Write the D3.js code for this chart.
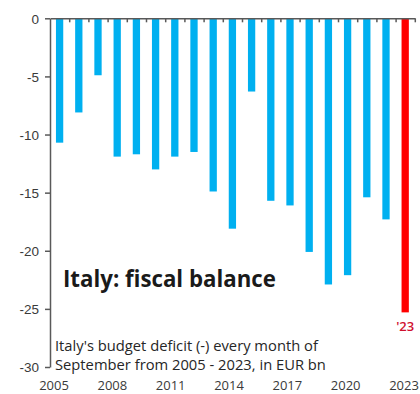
<!DOCTYPE html>
<html>
<head>
<meta charset="utf-8">
<script src="https://cdn.jsdelivr.net/npm/d3@7"></script>
<style>
  html, body { margin: 0; padding: 0; background: #fff; }
  svg { display: block; font-family: "Open Sans", Lato, sans-serif; }
</style>
</head>
<body>
<svg id="chart" width="420" height="394"></svg>
<script>
const years = ["2005","2006","2007","2008","2009","2010","2011","2012","2013","2014",
               "2015","2016","2017","2018","2019","2020","2021","2022","2023"];
const values = [-10.7, -8.1, -4.9, -11.9, -11.7, -13.0, -11.9, -11.5, -14.9, -18.1,
                -6.3, -15.7, -16.1, -20.1, -22.9, -22.1, -15.4, -17.3, -25.3];
const highlightYear = "2023";
const highlightLabel = "'23";
const xTickLabels = ["2005","2008","2011","2014","2017","2020","2023"];
const yTickValues = [0, -5, -10, -15, -20, -25, -30];
const titleText = "Italy: fiscal balance";
const subtitleLines = ["Italy's budget deficit (-) every month of",
                       "September from 2005 - 2023,  in EUR bn"];

(function () {
const svg = d3.select("#chart");
const mLeft = 50, mRight = 414.8, mTop = 18.3, mBottom = 367;

const x = d3.scaleBand().domain(years).range([mLeft, mRight])
  .paddingInner(0.62).paddingOuter(0.31);
const y = d3.scaleLinear().domain([-30, 0]).range([mBottom, mTop]);
const xLab = d3.scalePoint().domain(xTickLabels).range([54, 404]);

const axisColor = "#595959";
const labelColor = "#3a3a3a";

// bars
svg.append("g").selectAll("rect").data(years).join("rect")
  .attr("x", d => x(d))
  .attr("y", y(0))
  .attr("width", x.bandwidth())
  .attr("height", (d, i) => y(values[i]) - y(0))
  .attr("fill", d => d === highlightYear ? "#FF0000" : "#00B0F0");

// y axis
const yAxis = svg.append("g").attr("transform", `translate(${mLeft},0)`)
  .call(d3.axisLeft(y).tickValues(yTickValues).tickSize(5).tickSizeOuter(0)
    .tickFormat(d => String(d)));
yAxis.select(".domain").attr("stroke", axisColor).attr("stroke-width", 1.5);
yAxis.selectAll(".tick line").attr("stroke", axisColor).attr("stroke-width", 1.5);
yAxis.selectAll(".tick text").attr("fill", labelColor)
  .style("font-size", "13.5px").attr("x", -11).attr("dy", "0.35em");

// top (zero) axis with category-boundary ticks pointing down
const boundary = d3.scaleLinear().domain([0, years.length]).range([mLeft, mRight]);
const topAxis = svg.append("g").attr("transform", `translate(0,${y(0)})`)
  .call(d3.axisBottom(boundary).tickValues(d3.range(1, years.length + 1))
    .tickSize(4).tickSizeOuter(0).tickFormat(""));
topAxis.select(".domain").attr("stroke", axisColor).attr("stroke-width", 1.5);
topAxis.selectAll(".tick line").attr("stroke", axisColor).attr("stroke-width", 1.5);

// x labels at bottom
svg.append("g").selectAll("text").data(xTickLabels).join("text")
  .attr("x", d => xLab(d))
  .attr("y", 389.5)
  .attr("text-anchor", "middle")
  .attr("fill", labelColor)
  .style("font-size", "13px")
  .text(d => d);

// '23 label
const hi = years.indexOf(highlightYear);
svg.append("text")
  .attr("x", x(highlightYear) + x.bandwidth() / 2)
  .attr("y", y(values[hi]) + 19)
  .attr("text-anchor", "middle")
  .attr("fill", "#D0102E")
  .style("font-size", "13px")
  .style("font-weight", "600")
  .text(highlightLabel);

function fit(sel, target, base) {
  const w = sel.node().getComputedTextLength();
  sel.style("font-size", (base * target / w).toFixed(2) + "px");
}

// title
const title = svg.append("text")
  .attr("x", 63).attr("y", 287)
  .attr("fill", "#1a1a1a")
  .style("font-size", "22px").style("font-weight", "bold")
  .text(titleText);
fit(title, 213, 22);

// subtitle
const subs = svg.append("g").selectAll("text").data(subtitleLines).join("text")
  .attr("x", 55)
  .attr("y", (d, i) => 351 + i * 19)
  .attr("fill", "#262626")
  .style("font-size", "13px")
  .text(d => d);
const w0 = subs.nodes()[0].getComputedTextLength();
subs.style("font-size", (13 * 263 / w0).toFixed(2) + "px");
})();
</script>
</body>
</html>
